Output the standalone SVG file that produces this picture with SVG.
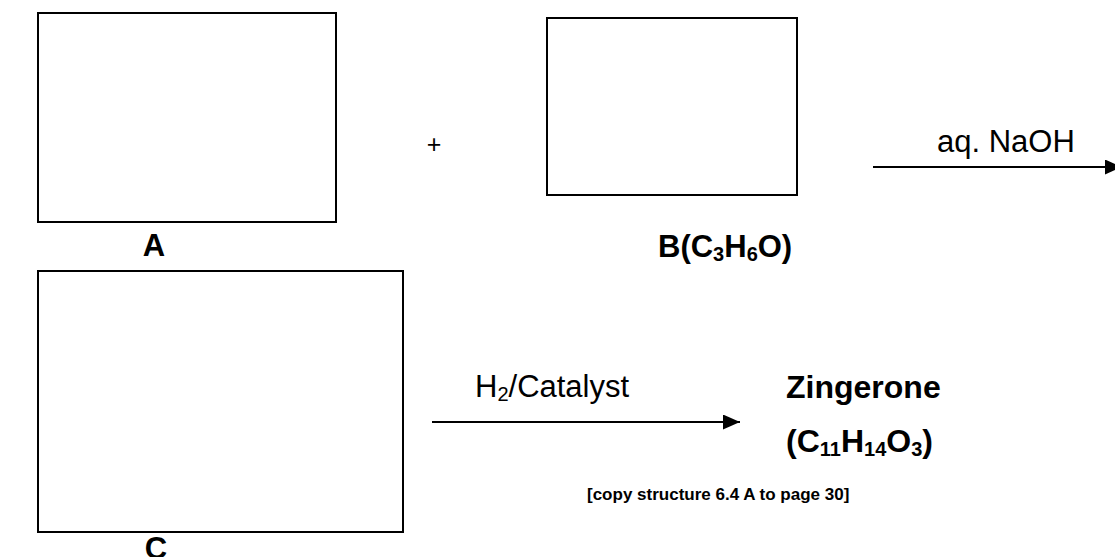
<svg xmlns="http://www.w3.org/2000/svg" width="1115" height="557" viewBox="0 0 1115 557">
<style>
.box{fill:#fff;stroke:#000;stroke-width:2}
.t{font-family:"Liberation Sans",Arial,sans-serif;fill:#000}
.b{font-weight:bold}
.ln{stroke:#000;stroke-width:2;fill:none}
.s{font-size:20px}
</style>
<defs>
<marker id="ah" markerWidth="17" markerHeight="15" refX="17" refY="7.5" orient="auto" markerUnits="userSpaceOnUse">
<path d="M0,0 L17,7.5 L0,15 Z" fill="#000"/>
</marker>
</defs>
<rect width="1115" height="557" fill="#fff"/>
<g id="nodeA">
<rect class="box" x="38" y="13" width="298" height="209"/>
<text class="t b" x="154" y="256" font-size="31" text-anchor="middle">A</text>
</g>
<g id="plus"><text class="t" x="434" y="153" font-size="25" text-anchor="middle">+</text></g>
<g id="nodeB">
<rect class="box" x="547" y="18" width="250" height="177"/>
<text class="t b" x="658" y="257" font-size="31">B(C<tspan class="s" dy="4">3</tspan><tspan dy="-4">H</tspan><tspan class="s" dy="4">6</tspan><tspan dy="-4">O)</tspan></text>
</g>
<g id="nodeC">
<rect class="box" x="38" y="271" width="365" height="261"/>
<text class="t b" x="156" y="559" font-size="31" text-anchor="middle">C</text>
</g>
<g id="nodeZ">
<text class="t b" x="786" y="398" font-size="32">Zingerone</text>
<text class="t b" x="786" y="452" font-size="32">(C<tspan class="s" dy="4">11</tspan><tspan dy="-4">H</tspan><tspan class="s" dy="4">14</tspan><tspan dy="-4">O</tspan><tspan class="s" dy="4">3</tspan><tspan dy="-4">)</tspan></text>
<text class="t b" x="587" y="500" font-size="17">[copy structure 6.4 A to page 30]</text>
</g>
<g id="connectors">
<line class="ln" x1="873" y1="167" x2="1122" y2="167" marker-end="url(#ah)"/>
<text class="t" x="937" y="152" font-size="31">aq. NaOH</text>
<line class="ln" x1="432" y1="422" x2="740" y2="422" marker-end="url(#ah)"/>
<text class="t" x="475" y="397" font-size="31">H<tspan class="s" dy="4">2</tspan><tspan dy="-4">/Catalyst</tspan></text>
</g>
</svg>
